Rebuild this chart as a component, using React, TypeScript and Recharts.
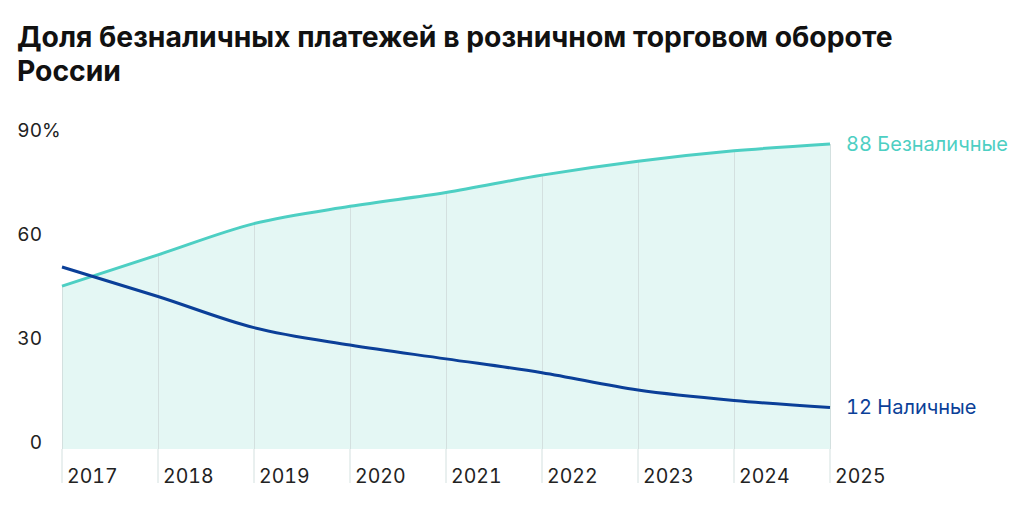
import React from 'react';
import { ComposedChart, Area, Bar, Line, XAxis, YAxis } from 'recharts';

const years = [2017, 2018, 2019, 2020, 2021, 2022, 2023, 2024, 2025];
const cashless = [47, 56, 65, 70, 74, 79, 83, 86, 88];
const cash = [52.5, 44, 35, 30, 26, 22, 17, 14, 12];
const yTicks = [0, 30, 60, 90];
const cashlessName = 'Безналичные';
const cashName = 'Наличные';
const title = 'Доля безналичных платежей в розничном торговом обороте России';

const data = years.map((y, i) => ({ year: y, cashless: cashless[i], cash: cash[i] }));

const FONT = 'Inter, "Noto Sans", sans-serif';
const TEAL = '#4dcfc3';
const BLUE = '#0b3f98';
const FILL = '#e4f7f4';
const GRID = '#d3e0df';
const TEXT_STYLE = { fontVariantNumeric: 'tabular-nums' as const };

const YTick = (props: any) => {
  const { x, y, payload } = props;
  return (
    <g>
      <text x={x} y={y} textAnchor="end" fontFamily={FONT} fontSize={19} fill="#222" style={TEXT_STYLE}>
        {payload.value}
      </text>
      {payload.value === 90 && (
        <text x={x} y={y} textAnchor="start" fontFamily={FONT} fontSize={19} fill="#222">
          %
        </text>
      )}
    </g>
  );
};

const XTick = (props: any) => {
  const { x, y, payload } = props;
  return (
    <text x={x + 5} y={y} textAnchor="start" fontFamily={FONT} fontSize={19.5} fill="#222" style={TEXT_STYLE}>
      {payload.value}
    </text>
  );
};

const makeEndLabel = (name: string, color: string) => (props: any) => {
  const { x, y, index, value } = props;
  if (index !== data.length - 1) return null;
  return (
    <text x={x + 16} y={y} dy={7} textAnchor="start" fontFamily={FONT} fontSize={20} fill={color} style={TEXT_STYLE}>
      {value} {name}
    </text>
  );
};

export default function App() {
  return (
    <div style={{ position: 'absolute', left: 0, top: 0, width: 1024, height: 508, background: '#fff' }}>
      <div
        style={{
          position: 'absolute',
          left: 17,
          top: 20,
          width: 940,
          fontFamily: FONT,
          fontWeight: 700,
          fontSize: 28.3,
          lineHeight: '34px',
          color: '#111',
        }}
      >
        {title}
      </div>
      <div style={{ position: 'absolute', left: 0, top: 0 }}>
        <ComposedChart
          width={1024}
          height={508}
          data={data}
          margin={{ top: 137, right: 194, bottom: 25, left: 0 }}
        >
          <XAxis
            dataKey="year"
            type="number"
            domain={[2017, 2025]}
            ticks={years}
            axisLine={false}
            tickLine={{ stroke: GRID, strokeWidth: 1 }}
            tickSize={34}
            tickMargin={0}
            height={34}
            tick={<XTick />}
            interval={0}
          />
          <YAxis
            type="number"
            domain={[0, 90]}
            ticks={yTicks}
            axisLine={false}
            tickLine={false}
            tickSize={0}
            tickMargin={20}
            width={62}
            tick={<YTick />}
          />
          <Area
            dataKey="cashless"
            type="monotone"
            stroke="none"
            fill={FILL}
            fillOpacity={1}
            isAnimationActive={false}
          />
          <Bar dataKey="cashless" barSize={1} fill={GRID} isAnimationActive={false} />
          <Line
            dataKey="cashless"
            type="monotone"
            stroke={TEAL}
            strokeWidth={3}
            dot={false}
            isAnimationActive={false}
            label={makeEndLabel(cashlessName, TEAL)}
          />
          <Line
            dataKey="cash"
            type="monotone"
            stroke={BLUE}
            strokeWidth={3}
            dot={false}
            isAnimationActive={false}
            label={makeEndLabel(cashName, BLUE)}
          />
        </ComposedChart>
      </div>
    </div>
  );
}
